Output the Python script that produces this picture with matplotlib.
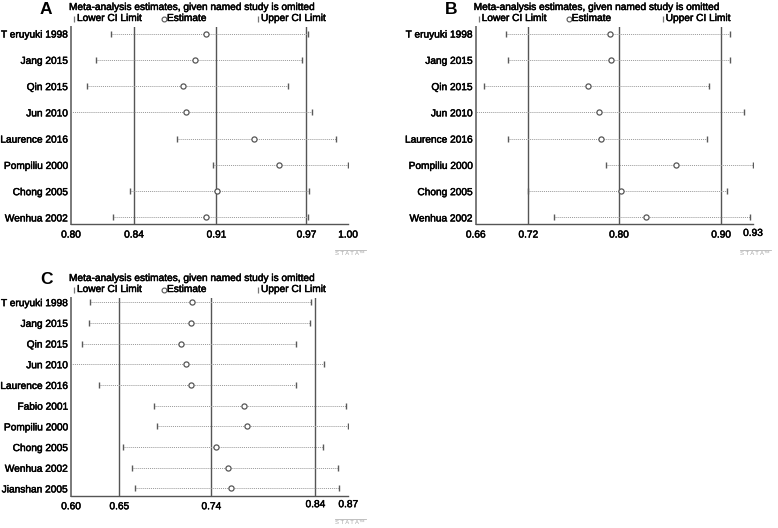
import numpy as np
import matplotlib.pyplot as plt
import matplotlib.patheffects as pe
from matplotlib.transforms import ScaledTranslation

plt.rcParams["font.family"] = ["Liberation Sans", "DejaVu Sans"]

# ---- data ----
studies_ab = ["T eruyuki 1998", "Jang 2015", "Qin 2015", "Jun 2010",
              "Laurence 2016", "Pompiliu 2000", "Chong 2005", "Wenhua 2002"]

a_est = [0.8972, 0.8893, 0.8809, 0.8828, 0.9321, 0.9504, 0.9052, 0.8977]
a_low = [0.8289, 0.8183, 0.8113, 0.7900, 0.8768, 0.9028, 0.8428, 0.8303]
a_up = [0.9709, 0.9668, 0.9564, 0.9742, 0.9911, 1.0002, 0.9721, 0.9714]
a_ticks = [0.80, 0.8455, 0.905, 0.970, 1.00]
a_labels = ["0.80", "0.84", "0.91", "0.97", "1.00"]
a_ref = [0.8455, 0.905, 0.970]

b_est = [0.7911, 0.7921, 0.7693, 0.7797, 0.7820, 0.8550, 0.8018, 0.8261]
b_low = [0.6895, 0.6918, 0.6678, 0.6500, 0.6918, 0.7869, 0.7106, 0.7365]
b_up = [0.9073, 0.9079, 0.8872, 0.9215, 0.8849, 0.9300, 0.9050, 0.9274]
b_ticks = [0.66, 0.7112, 0.7995, 0.8989, 0.93]
b_labels = ["0.66", "0.72", "0.80", "0.90", "0.93"]
b_ref = [0.7112, 0.7995, 0.8989]

studies_c = ["T eruyuki 1998", "Jang 2015", "Qin 2015", "Jun 2010",
             "Laurence 2016", "Fabio 2001", "Pompiliu 2000", "Chong 2005",
             "Wenhua 2002", "Jianshan 2005"]
c_est = [0.7181, 0.7172, 0.7074, 0.7123, 0.7168, 0.7685, 0.7714, 0.7412,
         0.7526, 0.7555]
c_low = [0.6185, 0.6175, 0.6110, 0.5900, 0.6276, 0.6808, 0.6840, 0.6503,
         0.6597, 0.6626]
c_up = [0.8337, 0.8327, 0.8191, 0.8460, 0.8188, 0.8675, 0.8700, 0.8457,
        0.8597, 0.8613]
c_ticks = [0.60, 0.647, 0.7366, 0.838, 0.87]
c_labels = ["0.60", "0.65", "0.74", "0.84", "0.87"]
c_ref = [0.647, 0.7366, 0.838]

W, H = 778, 528
FS = 7.3
heavy = [pe.withStroke(linewidth=0.35, foreground="black")]
fig = plt.figure(figsize=(W / 100, H / 100), dpi=100)


def px(x, y):
    return x / W, 1 - y / H


def panel(rect_px, letter, studies, est, low, up, ticks, labels, ref,
          top_pad, bot_pad, lab_shift, logo_dy):
    l, t, r, b = rect_px
    x0, y1 = px(l, t)
    x1, y0 = px(r, b)
    ax = fig.add_axes([x0, y0, x1 - x0, y1 - y0])
    n = len(studies)
    y = np.arange(n)[::-1]
    for v in ref:
        ax.axvline(v, color="#555555", lw=1.0, zorder=1)
    for yi, lo, hi in zip(y, low, up):
        ax.plot([lo, hi], [yi, yi], color="#999999", lw=0.7,
                linestyle=(0, (1, 1)), zorder=2)
    ax.plot(low, y, linestyle="none", marker="|", ms=4.6, mew=1.0,
            color="#5a5a5a", zorder=3)
    ax.plot(up, y, linestyle="none", marker="|", ms=4.6, mew=1.0,
            color="#5a5a5a", zorder=3)
    ax.plot(est, y, linestyle="none", marker="o", ms=3.7, mfc="white",
            mec="#555555", mew=0.9, zorder=4)
    ax.set_xlim(ticks[0], ticks[-1])
    ax.set_ylim(-bot_pad, n - 1 + top_pad)
    ax.set_yticks(y)
    ax.set_yticklabels(studies, fontsize=FS)
    ax.set_xticks(ticks)
    ax.set_xticklabels(labels, fontsize=FS)
    ax.tick_params(length=0, pad=2.2)
    ax.tick_params(axis="x", pad=4)
    for lab in ax.get_yticklabels() + ax.get_xticklabels():
        lab.set_path_effects(heavy)
    for lab, dy in zip(ax.get_xticklabels(), lab_shift):
        if dy:
            lab.set_transform(lab.get_transform() +
                              ScaledTranslation(0, dy / 72, fig.dpi_scale_trans))
    for s in ["top", "right"]:
        ax.spines[s].set_visible(False)
    ax.spines["left"].set_color("#7a7a7a")
    ax.spines["left"].set_linewidth(1.4)
    ax.spines["bottom"].set_color("#555555")
    ax.spines["bottom"].set_linewidth(1.0)

    # panel letter, title and legend row
    fig.text(*px(l - 31, t - 18), letter, fontsize=12.5, fontweight="bold",
             ha="left", va="center")
    fig.text(*px(l - 2, t - 20), "Meta-analysis estimates, given named study is omitted",
             fontsize=FS, ha="left", va="center", path_effects=heavy)
    ly = t - 9
    leg = [(l + 1, "|", "Lower CI Limit"), (l + 91, "o", "Estimate"),
           (l + 185, "|", "Upper CI Limit")]
    for lx, mk, txt in leg:
        mx, my = px(lx + 2, ly + 0.5)
        if mk == "o":
            fig.add_artist(plt.Line2D([mx], [my], marker="o", ms=3.5, mfc="white",
                                      mec="#555555", mew=0.8, linestyle="none"))
        else:
            fig.add_artist(plt.Line2D([mx], [my], marker="|", ms=4.5, mew=0.9,
                                      color="#777777", linestyle="none"))
        fig.text(*px(lx + 5, ly), txt, fontsize=FS, ha="left", va="center",
                 path_effects=heavy)

    # stata logo
    sx, sy = r - 13, b + logo_dy
    fig.text(*px(sx, sy), "S T A T A™", fontsize=4.2, color="#a8a8a8",
             ha="left", va="center")
    fig.add_artist(plt.Line2D([px(sx, 0)[0], px(sx + 31, 0)[0]],
                              [px(0, sy - 3.5)[1]] * 2, color="#b5b5b5", lw=0.6))
    return ax


panel((71, 27, 348, 224), "A", studies_ab, a_est, a_low, a_up,
      a_ticks, a_labels, a_ref, 0.25, 0.25, [0, 0, 0, 0, 0], 29)
panel((475.7, 27, 753, 224), "B", studies_ab, b_est, b_low, b_up,
      b_ticks, b_labels, b_ref, 0.25, 0.25, [0, 0, 0, 0, 1.2], 29)
panel((71, 298, 348.3, 495.7), "C", studies_c, c_est, c_low, c_up,
      c_ticks, c_labels, c_ref, 0.2, 0.35, [0, 0, 0, 1.5, 1.5], 27)

fig.savefig("out.png", dpi=100, facecolor="white")
